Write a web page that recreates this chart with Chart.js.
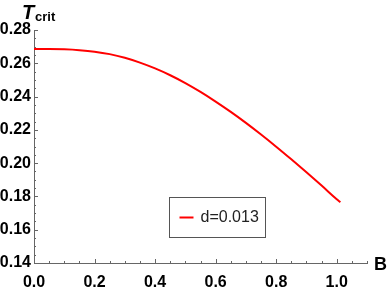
<!DOCTYPE html>
<html lang="en">
<head>
  <meta charset="UTF-8" />
  <title>T_crit vs B</title>
  <script src="https://cdn.jsdelivr.net/npm/chart.js"></script>
  <style>
    body { margin: 0; padding: 0; background: #fff; }
    canvas { display: block; }
  </style>
</head>
<body>
  <canvas id="chart" width="388" height="291"></canvas>

  <script>
    // values
    const bValues = [0, 0.05, 0.1, 0.15, 0.2, 0.25, 0.3, 0.35, 0.4, 0.45, 0.5,
                     0.55, 0.6, 0.65, 0.7, 0.75, 0.8, 0.85, 0.9, 0.95, 1.0, 1.012];
    const tCrit   = [0.2686, 0.2686, 0.2684, 0.2679, 0.2670, 0.2655, 0.2633, 0.2604, 0.2569, 0.2528, 0.2481,
                     0.2428, 0.2370, 0.2308, 0.2242, 0.2172, 0.2099, 0.2023, 0.1945, 0.1865, 0.1783, 0.1765];
    const seriesLabel = 'd=0.013';

    const xTicks = [0, 0.2, 0.4, 0.6, 0.8, 1.0];
    const yTicks = [0.14, 0.16, 0.18, 0.20, 0.22, 0.24, 0.26, 0.28];

    const axisColor = '#666';

    // mathematica-style ticks pointing into the plot, with 3 minor ticks between majors
    const innerTicks = {
      id: 'innerTicks',
      afterDraw(chart) {
        const ctx = chart.ctx;
        const xs = chart.scales.x, ys = chart.scales.y;
        const area = chart.chartArea;
        ctx.save();
        ctx.strokeStyle = axisColor;
        ctx.lineWidth = 1;
        ctx.beginPath();
        const xStep = (xTicks[1] - xTicks[0]) / 4;
        for (let i = 0; i * xStep <= xs.max + 1e-9; i++) {
          const px = Math.round(xs.getPixelForValue(i * xStep)) + 0.5;
          const len = i % 4 === 0 ? 4 : 2;
          ctx.moveTo(px, area.bottom);
          ctx.lineTo(px, area.bottom - len);
        }
        const yStep = (yTicks[1] - yTicks[0]) / 4;
        for (let i = 0; ys.min + i * yStep <= ys.max + 1e-9; i++) {
          const py = Math.round(ys.getPixelForValue(ys.min + i * yStep)) + 0.5;
          const len = i % 4 === 0 ? 4 : 2;
          ctx.moveTo(area.left, py);
          ctx.lineTo(area.left + len, py);
        }
        ctx.stroke();

        // axis names
        ctx.fillStyle = '#000';
        ctx.textBaseline = 'alphabetic';
        ctx.textAlign = 'left';
        ctx.font = 'bold 18px "Liberation Sans", Arial, sans-serif';
        ctx.fillText('B', area.right + 7, area.bottom + 7);
        ctx.font = 'italic bold 20px "Liberation Sans", Arial, sans-serif';
        ctx.fillText('T', area.left - 12, area.top - 11);
        ctx.font = 'bold 13px "Liberation Sans", Arial, sans-serif';
        ctx.fillText('crit', area.left + 1, area.top - 9);

        // legend box
        const ds = chart.data.datasets[0];
        const lx = 169.5, ly = 197.5, lw = 96, lh = 40;
        ctx.fillStyle = '#fff';
        ctx.fillRect(lx, ly, lw, lh);
        ctx.strokeStyle = '#555';
        ctx.lineWidth = 1;
        ctx.strokeRect(lx, ly, lw, lh);
        ctx.strokeStyle = ds.borderColor;
        ctx.lineWidth = 2;
        ctx.beginPath();
        ctx.moveTo(lx + 10, ly + 20);
        ctx.lineTo(lx + 24, ly + 20);
        ctx.stroke();
        ctx.fillStyle = '#222';
        ctx.font = '16px "Liberation Sans", Arial, sans-serif';
        ctx.textBaseline = 'middle';
        ctx.fillText(ds.label, lx + 31, ly + 20);
        ctx.restore();
      }
    };

    new Chart(document.getElementById('chart').getContext('2d'), {
      type: 'line',
      data: {
        datasets: [{
          label: seriesLabel,
          data: bValues.map((b, i) => ({ x: b, y: tCrit[i] })),
          borderColor: '#ff0000',
          borderWidth: 2,
          pointRadius: 0,
          fill: false,
          cubicInterpolationMode: 'monotone'
        }]
      },
      options: {
        responsive: false,
        animation: false,
        devicePixelRatio: 1,
        layout: { padding: { top: 30, right: 21, left: 0, bottom: 0 } },
        plugins: {
          legend: { display: false },
          tooltip: { enabled: false }
        },
        scales: {
          x: {
            type: 'linear',
            min: 0,
            max: 1.1,
            afterBuildTicks: s => { s.ticks = xTicks.map(v => ({ value: v })); },
            afterFit: s => { s.height = 28; },
            grid: { display: false, drawTicks: false },
            border: { display: true, color: axisColor, width: 1 },
            ticks: {
              color: '#000',
              font: { family: '"Liberation Sans", Arial, sans-serif', size: 16, weight: 'bold' },
              padding: 10,
              maxRotation: 0,
              autoSkip: false,
              callback: v => v.toFixed(1)
            }
          },
          y: {
            type: 'linear',
            min: 0.14,
            max: 0.28,
            afterBuildTicks: s => { s.ticks = yTicks.map(v => ({ value: v })); },
            afterFit: s => { s.width = 34; },
            grid: { display: false, drawTicks: false },
            border: { display: true, color: axisColor, width: 1 },
            ticks: {
              color: '#000',
              font: { family: '"Liberation Sans", Arial, sans-serif', size: 16, weight: 'bold' },
              padding: 3,
              autoSkip: false,
              callback: v => v.toFixed(2)
            }
          }
        }
      },
      plugins: [innerTicks]
    });
  </script>
</body>
</html>
